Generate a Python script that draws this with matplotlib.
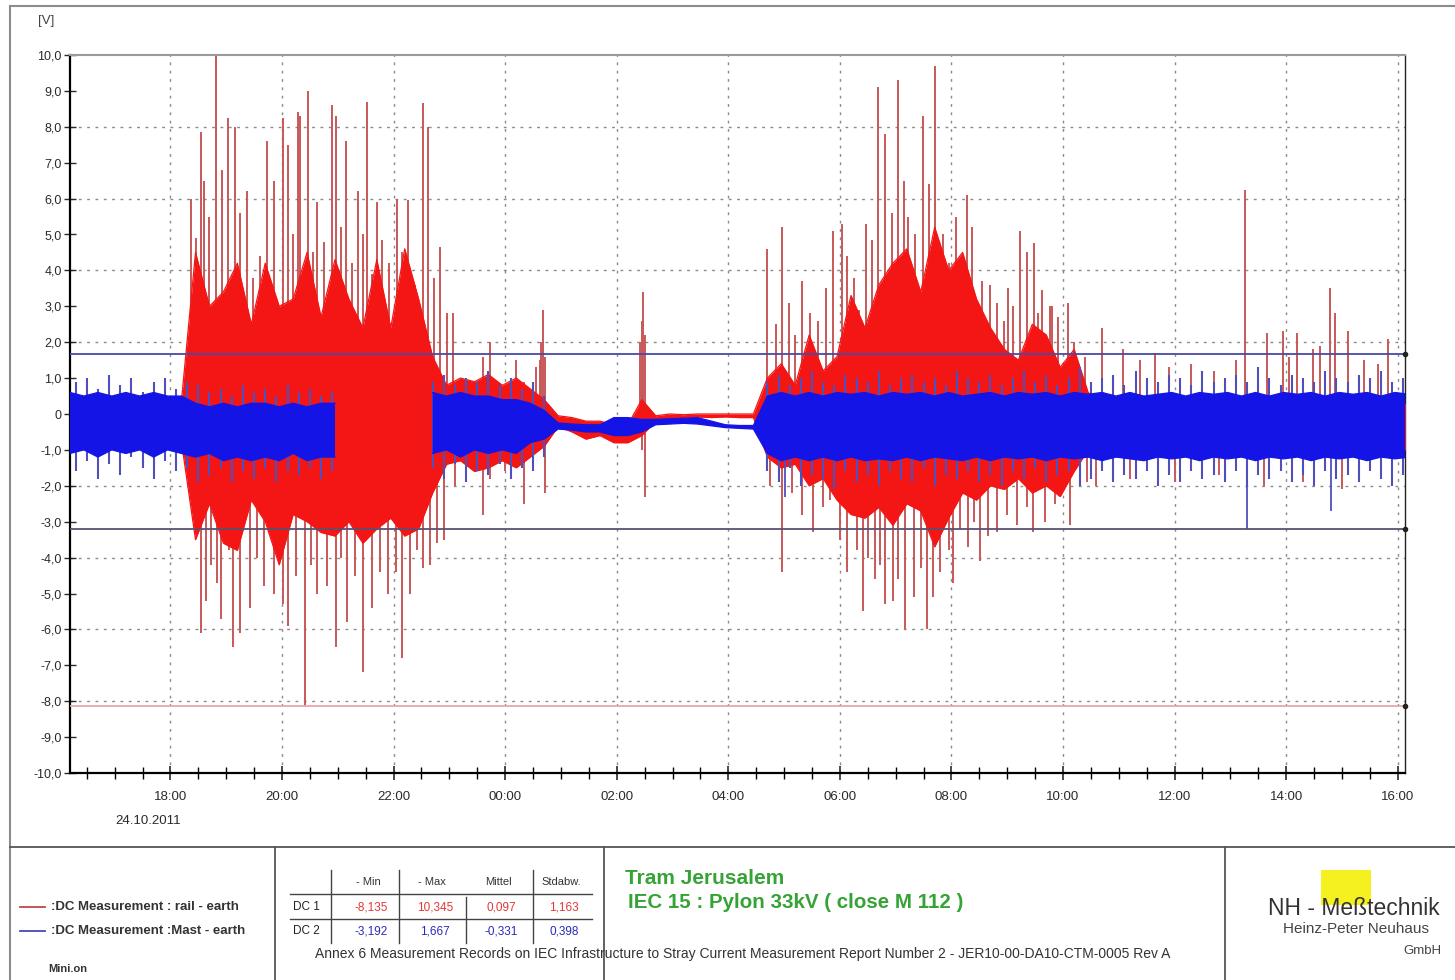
import numpy as np
import matplotlib
matplotlib.use("Agg")
import matplotlib.pyplot as plt
from matplotlib.ticker import FixedLocator, FuncFormatter
from matplotlib.lines import Line2D
from matplotlib.patches import Rectangle

plt.rcParams['font.family'] = ['Liberation Sans', 'DejaVu Sans']

# ---------------- data (time in hours since 24.10.2011 00:00) ----------------
nan = float('nan')

# dense core band of both series, sampled every 15 min from 16:12
BAND_T0 = 16.2
BAND_DT = 0.25

blue_hi = [0.6, 0.5, 0.6, 0.5, 0.6, 0.5, 0.6, 0.5, 0.5,
           0.3, 0.2, 0.3, 0.2, 0.3, 0.3, 0.2, 0.3, 0.2, 0.3, 0.3,
           nan, nan, nan, nan, nan, nan,
           0.6, 0.5, 0.6, 0.5, 0.5, 0.4, 0.4, 0.3, 0.1,
           -0.25, -0.28, -0.3, -0.3, -0.1, -0.1, -0.15, -0.15, -0.13, -0.12, -0.1, -0.2, -0.3, -0.32, -0.32,
           0.5, 0.6, 0.5, 0.6, 0.5, 0.6, 0.55, 0.6, 0.5, 0.6,
           0.55, 0.6, 0.5, 0.6, 0.5, 0.55, 0.6, 0.5, 0.6, 0.55,
           0.6, 0.5, 0.6, 0.55, 0.6, 0.5, 0.6, 0.5, 0.55, 0.6,
           0.5, 0.6, 0.55, 0.6, 0.5, 0.6, 0.5, 0.6, 0.55, 0.6,
           0.5, 0.6, 0.55, 0.6, 0.5, 0.6, 0.55]
blue_lo = [-1.1, -1.0, -1.2, -1.0, -1.1, -1.0, -1.2, -1.0, -1.1,
           -1.2, -1.1, -1.3, -1.2, -1.3, -1.2, -1.3, -1.1, -1.3, -1.2, -1.2,
           nan, nan, nan, nan, nan, nan,
           -1.1, -1.0, -1.2, -1.0, -1.1, -1.0, -1.1, -0.8, -0.7,
           -0.42, -0.45, -0.5, -0.5, -0.6, -0.6, -0.5, -0.3, -0.28, -0.26, -0.28, -0.33, -0.38, -0.4, -0.42,
           -1.1, -1.3, -1.2, -1.3, -1.2, -1.3, -1.2, -1.3, -1.25, -1.3,
           -1.2, -1.3, -1.2, -1.25, -1.3, -1.2, -1.3, -1.2, -1.25, -1.2,
           -1.3, -1.2, -1.25, -1.2, -1.3, -1.2, -1.25, -1.3, -1.2, -1.25,
           -1.2, -1.3, -1.2, -1.25, -1.2, -1.3, -1.2, -1.25, -1.2, -1.3,
           -1.2, -1.25, -1.2, -1.3, -1.2, -1.25, -1.2]

red_hi = [0.2, 0.2, 0.2, 0.2, 0.2, 0.2, 0.2, 0.2, 0.4,
          4.5, 3.0, 3.4, 4.2, 2.5, 4.2, 3.0, 3.2, 4.5, 2.7, 4.3,
          3.2, 2.4, 4.3, 2.4, 4.6, 3.2,
          1.6, 0.8, 1.0, 0.9, 1.1, 0.8, 1.0, 0.7, 0.4,
          -0.05, -0.1, -0.2, -0.2, -0.3, -0.3, 0.4, -0.05, 0.0, -0.02, 0.0, 0.0, 0.0, 0.0, 0.0,
          1.0, 1.4, 0.8, 2.2, 1.2, 1.6, 3.3, 2.4, 3.6, 4.2, 4.6, 3.4, 5.2, 4.0, 4.5, 3.2, 2.4, 1.8,
          1.5, 2.5, 2.2, 1.3, 1.8, 0.6,
          0.3, 0.3, 0.3, 0.3, 0.3, 0.3, 0.3, 0.3, 0.3, 0.3, 0.3, 0.3,
          0.3, 0.3, 0.3, 0.3, 0.3, 0.3, 0.3, 0.3, 0.3, 0.3, 0.3]
red_lo = [-0.7, -0.7, -0.7, -0.7, -0.7, -0.7, -0.7, -0.7, -0.8,
          -3.5, -2.5, -3.6, -3.8, -2.4, -3.0, -4.2, -2.8, -3.0, -3.3, -3.4,
          -3.0, -3.6, -3.2, -2.9, -3.4, -3.2,
          -2.2, -1.4, -1.3, -1.6, -1.5, -1.3, -1.5, -1.2, -0.9,
          -0.35, -0.5, -0.7, -0.6, -0.8, -0.8, -0.6, -0.2, -0.1, -0.1, -0.08, -0.1, -0.08, -0.1, -0.1,
          -1.2, -1.5, -1.4, -2.0, -1.8, -2.4, -2.8, -2.9, -2.6, -3.1, -2.5, -2.7, -3.7, -2.9, -2.2, -2.4,
          -2.0, -2.1, -1.8, -2.2, -2.0, -2.3, -1.6, -1.0,
          -1.0, -1.0, -1.0, -1.0, -1.0, -1.0, -1.0, -1.0, -1.0, -1.0, -1.0, -1.0,
          -1.0, -1.0, -1.0, -1.0, -1.0, -1.0, -1.0, -1.0, -1.0, -1.0, -1.0]

# blue noise fringe (extremes), sampled every 12 min from 16:18
FRINGE_T0 = 16.3
FRINGE_DT = 0.2
blue_fr_hi = [0.9, 1.0, 0.7, 1.1, 0.8, 1.0, 0.6, 0.9, 1.0, 0.7, 0.9, 0.8,
              0.6, 0.7, 0.5, 0.8, 0.6, 0.7, 0.5, 0.8, 0.6, 0.7, 0.5, 0.6,
              nan, nan, nan, nan, nan, nan, nan, nan,
              0.9, 1.1, 0.8, 1.0, 0.9, 1.2, 0.8, 1.0, 0.7, 0.9, 0.5,
              nan, nan, nan, nan, nan, nan, nan, nan, nan, nan,
              nan, nan, nan, nan, nan, nan, nan, nan, nan,
              0.9, 1.1, 0.8, 1.0, 1.2, 0.9, 0.8, 1.1, 1.0, 0.9,
              1.2, 0.8, 1.0, 1.1, 0.9, 1.0, 0.8, 1.2, 1.0, 0.9,
              1.1, 0.8, 1.0, 1.2, 0.9, 1.1, 0.8, 1.0, 1.3, 0.9,
              1.0, 1.1, 0.8, 1.2, 1.0, 0.9, 1.1, 1.0, 0.8, 1.2,
              0.9, 1.0, 1.1, 0.9, 1.3, 1.0, 0.8, 1.1, 1.0, 0.9,
              1.2, 1.0, 0.9, 1.1, 1.0, 1.2, 0.9, 1.0]
blue_fr_lo = [-1.6, -1.3, -1.8, -1.4, -1.7, -1.2, -1.5, -1.8, -1.3, -1.6, -1.5, -1.9,
              -1.7, -1.5, -1.9, -1.6, -1.8, -1.5, -1.9, -1.6, -1.7, -1.5, -1.8, -1.6,
              nan, nan, nan, nan, nan, nan, nan, nan,
              -1.5, -1.8, -1.4, -1.9, -1.6, -1.7, -1.4, -1.8, -1.5, -1.6, -1.2,
              nan, nan, nan, nan, nan, nan, nan, nan, nan, nan,
              nan, nan, nan, nan, nan, nan, nan, nan, nan,
              -1.6, -1.9, -1.5, -2.0, -1.7, -1.8, -2.1, -1.6, -1.9, -1.7,
              -2.0, -1.6, -1.8, -1.9, -1.5, -2.0, -1.7, -1.8, -1.6, -1.9,
              -1.7, -2.0, -1.6, -1.8, -1.5, -1.9, -1.7, -1.6, -2.0, -1.8,
              -1.6, -1.9, -1.7, -1.8, -1.6, -2.0, -1.7, -1.9, -1.6, -1.8,
              -1.7, -1.9, -1.6, -2.0, -1.7, -1.8, -1.6, -1.9, -1.7, -2.0,
              -1.6, -1.8, -1.7, -1.9, -1.6, -1.8, -2.0, -1.7]

# individual spikes
red_up_t = [18.36, 18.45, 18.54, 18.61, 18.70, 18.81, 18.92, 19.04, 19.16, 19.25, 19.38, 19.48, 19.61,
            19.74, 19.85, 20.01, 20.11, 20.20, 20.28, 20.33, 20.47, 20.55, 20.63, 20.75, 20.90, 20.96,
            21.05, 21.15, 21.25, 21.37, 21.45, 21.53, 21.62, 21.71, 21.80, 21.92, 22.07, 22.15, 22.25,
            22.38, 22.53, 22.62, 22.72, 22.84, 22.95,
            23.07, 23.6, 23.73, 24.2, 24.33, 24.55, 24.62, 24.65, 24.68, 24.71,
            26.42, 26.45, 26.48, 26.51,
            28.70, 28.85, 28.97, 29.08, 29.2, 29.33, 29.47, 29.6, 29.75, 29.88, 30.04, 30.13, 30.25,
            30.35, 30.46, 30.58, 30.69, 30.81, 30.94, 31.05, 31.15, 31.23, 31.35, 31.49, 31.60, 31.71,
            31.85, 31.95, 32.09, 32.18, 32.28, 32.37, 32.45, 32.55, 32.70, 32.82, 32.95, 33.02, 33.1,
            33.23, 33.36, 33.48, 33.55, 33.63, 33.77, 33.81, 33.91, 34.09, 34.2,
            34.4, 34.70, 35.08, 35.38, 35.65, 35.9, 36.3, 36.7, 37.1, 37.27, 37.5, 37.66, 37.95, 38.05,
            38.20, 38.48, 38.6, 38.79, 38.88, 39.11, 39.4, 39.65, 39.83]
red_up_v = [6.0, 4.9, 7.85, 6.5, 5.5, 10.3, 6.8, 8.25, 8.0, 5.6, 6.2, 3.8, 4.4,
            7.6, 6.5, 8.25, 7.5, 5.0, 8.4, 8.3, 9.0, 4.5, 5.9, 4.8, 8.6, 8.3,
            5.2, 7.6, 4.2, 6.2, 5.0, 8.7, 3.9, 5.9, 4.85, 4.2, 6.0, 4.5, 5.95,
            3.6, 8.65, 8.0, 3.8, 4.65, 2.8,
            2.8, 1.6, 2.0, 1.5, 0.9, 1.3, 1.5, 2.0, 2.9, 1.6,
            2.0, 2.6, 3.4, 2.2,
            4.6, 2.5, 5.2, 3.1, 2.2, 3.7, 2.8, 2.6, 3.5, 5.1, 5.3, 4.4, 3.8,
            2.9, 5.3, 4.85, 9.1, 7.8, 5.6, 9.3, 6.5, 5.5, 5.0, 8.3, 6.4, 9.7,
            5.0, 4.2, 5.5, 4.0, 6.1, 5.2, 2.8, 3.7, 3.6, 3.1, 2.6, 3.5, 3.0,
            5.1, 4.5, 4.75, 2.8, 3.45, 3.0, 3.0, 2.7, 3.1, 2.0,
            1.6, 2.4, 1.8, 1.5, 1.7, 1.3, 1.4, 1.2, 1.5, 6.25, 1.3, 2.25, 2.3, 1.6,
            2.25, 1.8, 1.9, 3.5, 2.8, 2.3, 1.5, 1.4, 2.1]

red_dn_t = [18.36, 18.54, 18.63, 18.72, 18.84, 18.90, 19.05, 19.13, 19.25, 19.43, 19.55, 19.67, 19.85,
            19.95, 20.01, 20.10, 20.25, 20.42, 20.52, 20.63, 20.80, 20.96, 21.05, 21.17, 21.30, 21.46,
            21.62, 21.76, 21.90, 22.05, 22.16, 22.30, 22.42, 22.52, 22.65, 22.78, 22.91,
            23.1, 23.6, 23.73, 24.0, 24.33, 24.5, 24.72, 26.45, 26.5,
            28.75, 28.97, 29.15, 29.33, 29.51, 29.7, 29.83, 30.0, 30.13, 30.3, 30.42, 30.5, 30.63, 30.72,
            30.81, 30.96, 31.05, 31.17, 31.32, 31.45, 31.57, 31.67, 31.80, 31.95, 32.03, 32.15, 32.30,
            32.4, 32.52, 32.65, 32.82, 33.0, 33.18, 33.35, 33.47, 33.68, 33.85, 34.13, 34.43,
            34.6, 35.2, 36.0, 36.8, 37.6, 38.3, 39.0, 39.7]
red_dn_v = [-2.4, -6.1, -5.2, -4.2, -4.7, -5.7, -3.8, -6.5, -6.1, -5.4, -4.0, -4.8, -5.0,
            -3.9, -5.3, -5.9, -4.5, -8.13, -4.2, -5.0, -4.8, -6.5, -4.0, -5.8, -4.5, -7.2,
            -5.4, -4.4, -5.0, -4.4, -6.8, -5.0, -3.8, -4.3, -4.2, -3.6, -3.5,
            -2.0, -2.8, -1.8, -1.6, -2.5, -1.5, -2.2, -1.0, -2.3,
            -2.0, -4.4, -2.2, -2.8, -3.3, -2.6, -2.4, -3.5, -4.4, -3.8, -5.5, -4.0, -4.6, -4.2,
            -5.3, -5.2, -4.6, -6.0, -5.1, -4.3, -6.0, -5.1, -4.4, -3.8, -4.7, -3.2, -3.7,
            -3.0, -4.1, -3.4, -3.3, -2.8, -3.1, -2.6, -3.3, -3.0, -2.5, -3.1, -1.9,
            -2.0, -1.8, -1.9, -1.7, -2.0, -1.9, -2.1, -1.8]

blue_dn_t = [29.02, 37.30, 38.80]
blue_dn_v = [-2.3, -3.19, -2.7]

limit_values = [1.667, -3.192, -8.135]
limit_colors = ['#4a4aa6', '#5a5070', '#e6a8a8']

xtick_hours = [18, 20, 22, 24, 26, 28, 30, 32, 34, 36, 38, 40]
xtick_labels = ['18:00', '20:00', '22:00', '00:00', '02:00', '04:00', '06:00', '08:00',
                '10:00', '12:00', '14:00', '16:00']
X_START, X_END = 16.2, 40.13

table_cols = ['- Min', '- Max', 'Mittel', 'Stdabw.']
table_rows = ['DC 1', 'DC 2']
table_vals = [['-8,135', '10,345', '0,097', '1,163'],
              ['-3,192', '1,667', '-0,331', '0,398']]
legend_labels = [':DC Measurement : rail - earth', ':DC Measurement :Mast - earth']

RED = '#f41515'
RED_SPK = '#c85858'
BLUE = '#1414e6'
BLUE_SPK = '#5050bc'
GREEN = '#36a336'

# ---------------- figure ----------------
W, H = 1455, 980
fig = plt.figure(figsize=(W / 100, H / 100), dpi=100)


def fx(px):
    return px / W


def fy(py):
    return 1 - py / H


ax = fig.add_axes([fx(70), fy(773), fx(1405) - fx(70), fy(55) - fy(773)])
ax.set_xlim(X_START, X_END)
ax.set_ylim(-10, 10)

t_band = BAND_T0 + BAND_DT * np.arange(len(blue_hi))
t_fringe = FRINGE_T0 + FRINGE_DT * np.arange(len(blue_fr_hi))

# red series
ax.vlines(red_up_t, 0, red_up_v, color=RED_SPK, lw=1.4, zorder=2)
ax.vlines(red_dn_t, 0, red_dn_v, color=RED_SPK, lw=1.4, zorder=2)
ax.fill_between(t_band, red_lo, red_hi, color=RED, lw=0, zorder=3)
ax.plot(t_band, red_hi, color=RED, lw=0.9, zorder=3)
ax.plot(t_band, red_lo, color=RED, lw=0.9, zorder=3)

# blue series
ax.vlines(t_fringe, -0.3, blue_fr_hi, color=BLUE_SPK, lw=1.5, zorder=4)
ax.vlines(t_fringe, -0.3, blue_fr_lo, color=BLUE_SPK, lw=1.5, zorder=4)
ax.vlines(blue_dn_t, -0.3, blue_dn_v, color=BLUE_SPK, lw=1.3, zorder=4)
ax.fill_between(t_band, blue_lo, blue_hi, color=BLUE, lw=0, zorder=5)
ax.plot(t_band, blue_hi, color=BLUE, lw=0.9, zorder=5)
ax.plot(t_band, blue_lo, color=BLUE, lw=0.9, zorder=5)

# limit lines
for v, c in zip(limit_values, limit_colors):
    ax.axhline(v, color=c, lw=1.3, zorder=6)
    ax.plot([X_END], [v], marker='o', ms=3, color='#222222', clip_on=False, zorder=7)

# grid
for h in xtick_hours:
    ax.axvline(h, color='#8a8a8a', lw=1.0, ls=(0, (2, 4)), zorder=1)
for v in [-8, -6, -4, -2, 2, 4, 6, 8]:
    ax.axhline(v, color='#8a8a8a', lw=1.0, ls=(0, (2, 4)), zorder=1)

# axes styling
ax.spines['top'].set_color('#9a9a9a')
ax.spines['top'].set_linewidth(1.5)
ax.spines['right'].set_color('#222222')
ax.spines['right'].set_linewidth(1.0)
ax.spines['left'].set_linewidth(1.6)
ax.spines['bottom'].set_linewidth(1.6)

ax.yaxis.set_major_locator(FixedLocator(np.arange(-10, 11, 1)))
ax.yaxis.set_major_formatter(FuncFormatter(
    lambda v, p: '0' if abs(v) < 1e-9 else ('%.1f' % v).replace('.', ',')))
ax.set_xticks(xtick_hours)
ax.set_xticklabels(xtick_labels)
ax.xaxis.set_minor_locator(FixedLocator(np.arange(16.5, 40.1, 0.5)))
ax.tick_params(axis='y', direction='inout', length=8, width=1, labelsize=9, pad=2, colors='#2a2a2a')
ax.tick_params(axis='x', which='major', direction='inout', length=10, width=1.2, labelsize=9.5, pad=8,
               colors='#2a2a2a')
ax.tick_params(axis='x', which='minor', direction='inout', length=8, width=1)

fig.text(fx(38), fy(21), '[V]', fontsize=9.5, ha='left', va='center', color='#444444')
fig.text(fx(148), fy(821), '24.10.2011', fontsize=9.5, ha='center', va='center', color='#2a2a2a')

# ---------------- frame and bottom panel ----------------
frame_c = '#8c8c8c'
fig.add_artist(Line2D([fx(10), fx(1455)], [fy(6), fy(6)], color=frame_c, lw=1.5))
fig.add_artist(Line2D([fx(10), fx(10)], [fy(6), fy(980)], color=frame_c, lw=1.5))
fig.add_artist(Line2D([fx(10), fx(1455)], [fy(847), fy(847)], color='#555555', lw=1.3))
for xs in [275, 604, 1225]:
    fig.add_artist(Line2D([fx(xs), fx(xs)], [fy(847), fy(980)], color='#555555', lw=1.3))

# legend
fig.add_artist(Line2D([fx(20), fx(45)], [fy(907), fy(907)], color='#c04848', lw=1.3))
fig.add_artist(Line2D([fx(20), fx(45)], [fy(931), fy(931)], color='#4848b8', lw=1.3))
fig.text(fx(51), fy(907), legend_labels[0], fontsize=9.5, fontweight='bold', ha='left', va='center',
         color='#333333')
fig.text(fx(51), fy(931), legend_labels[1], fontsize=9.5, fontweight='bold', ha='left', va='center',
         color='#333333')
fig.text(fx(48), fy(969), 'Mini.on', fontsize=8, fontweight='bold', ha='left', va='center', color='#333333')

# table
col_x = [368, 432, 498, 561]
row_y = [907, 931]
for cx, lab in zip(col_x, table_cols):
    fig.text(fx(cx), fy(882), lab, fontsize=8, ha='center', va='center', color='#333333')
for ry, lab in zip(row_y, table_rows):
    fig.text(fx(306), fy(ry), lab, fontsize=8.5, ha='center', va='center', color='#222222')
val_colors = ['#e03838', '#2a2ab8']
for ri, (ry, vals) in enumerate(zip(row_y, table_vals)):
    for cx, v in zip(col_x, vals):
        fig.text(fx(cx + 3), fy(ry), v, fontsize=8.5, ha='center', va='center', color=val_colors[ri])
for ly in [894, 919]:
    fig.add_artist(Line2D([fx(290), fx(592)], [fy(ly), fy(ly)], color='#444444', lw=1.0))
for lx in [331, 399, 533]:
    fig.add_artist(Line2D([fx(lx), fx(lx)], [fy(870), fy(943)], color='#444444', lw=1.0))
fig.add_artist(Line2D([fx(466), fx(466)], [fy(897), fy(943)], color='#444444', lw=1.0))

fig.text(fx(743), fy(954),
         'Annex 6 Measurement Records on IEC Infrastructure to Stray Current Measurement Report Number 2 - JER10-00-DA10-CTM-0005 Rev A',
         fontsize=10, ha='center', va='center', color='#333333')

fig.text(fx(625), fy(878), 'Tram Jerusalem', fontsize=15, fontweight='bold', ha='left', va='center', color=GREEN)
fig.text(fx(628), fy(903), 'IEC 15 : Pylon 33kV ( close M 112 )', fontsize=14.8, fontweight='bold',
         ha='left', va='center', color=GREEN)

# company
fig.add_artist(Rectangle((fx(1321), fy(905)), fx(50), 35 / H, color='#f5f020', lw=0))
fig.text(fx(1268), fy(908), 'NH - Meßtechnik', fontsize=16.5, ha='left', va='center', color='#333333')
fig.text(fx(1283), fy(929), 'Heinz-Peter Neuhaus', fontsize=11, ha='left', va='center', color='#444444')
fig.text(fx(1403), fy(951), 'GmbH', fontsize=9.5, ha='left', va='center', color='#444444')

fig.savefig('out.png', dpi=100, facecolor='white')
